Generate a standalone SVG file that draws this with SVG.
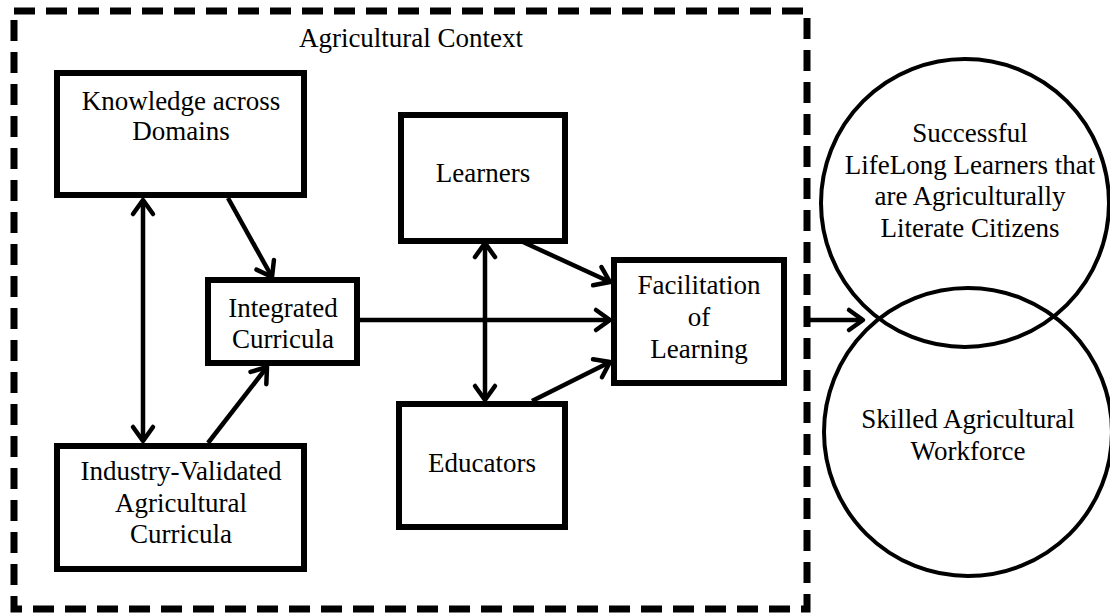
<svg xmlns="http://www.w3.org/2000/svg" width="1110" height="613" viewBox="0 0 1110 613">
<style>
.box{fill:#fff;stroke:#000;stroke-width:6}
.ring{fill:none;stroke:#000;stroke-width:4}
.t{font-family:"Liberation Serif","Times New Roman",serif;font-size:27px;fill:#000;text-anchor:middle}
.c{fill:none;stroke:#000;stroke-width:4.5}
</style>
<defs>
<marker id="ah" viewBox="-20 -20 40 40" refX="0" refY="0" markerWidth="40" markerHeight="40" markerUnits="userSpaceOnUse" orient="auto-start-reverse">
<path d="M-14 -10 L0 0 L-14 10" fill="none" stroke="#000" stroke-width="4.5" stroke-linecap="round" stroke-linejoin="round"/>
</marker>
</defs>
<rect width="1110" height="613" fill="#fff"/>
<g id="context">
<rect x="14" y="11" width="793" height="598" fill="none" stroke="#000" stroke-width="7" stroke-dasharray="21 11"/>
<text class="t" x="411" y="47">Agricultural Context</text>
</g>
<g id="knowledge">
<rect class="box" x="57" y="73" width="247" height="122"/>
<text class="t" x="181" y="110">Knowledge across</text>
<text class="t" x="181" y="140">Domains</text>
</g>
<g id="industry">
<rect class="box" x="57" y="446" width="247" height="123"/>
<text class="t" x="181" y="480">Industry-Validated</text>
<text class="t" x="181" y="512">Agricultural</text>
<text class="t" x="181" y="543">Curricula</text>
</g>
<g id="integrated">
<rect class="box" x="208" y="280" width="149" height="83"/>
<text class="t" x="283" y="317">Integrated</text>
<text class="t" x="283" y="348">Curricula</text>
</g>
<g id="learners">
<rect class="box" x="401" y="115" width="164" height="126"/>
<text class="t" x="483" y="182">Learners</text>
</g>
<g id="educators">
<rect class="box" x="399" y="404" width="166" height="123"/>
<text class="t" x="482" y="472">Educators</text>
</g>
<g id="facilitation">
<rect class="box" x="614" y="260" width="170" height="123"/>
<text class="t" x="699" y="294">Facilitation</text>
<text class="t" x="699" y="326">of</text>
<text class="t" x="699" y="358">Learning</text>
</g>
<g id="lifelong">
<circle class="ring" cx="965" cy="203" r="144"/>
<text class="t" x="970" y="142">Successful</text>
<text class="t" x="970" y="174">LifeLong Learners that</text>
<text class="t" x="970" y="205">are Agriculturally</text>
<text class="t" x="970" y="237">Literate Citizens</text>
</g>
<g id="workforce">
<circle class="ring" cx="968" cy="432" r="144"/>
<text class="t" x="968" y="428">Skilled Agricultural</text>
<text class="t" x="968" y="460">Workforce</text>
</g>
<g id="connectors">
<line class="c" x1="143" y1="200" x2="143" y2="441" marker-start="url(#ah)" marker-end="url(#ah)"/>
<line class="c" x1="228" y1="198" x2="272" y2="277" marker-end="url(#ah)"/>
<line class="c" x1="208" y1="443" x2="267" y2="367" marker-end="url(#ah)"/>
<line class="c" x1="360" y1="320" x2="610" y2="320" marker-end="url(#ah)"/>
<line class="c" x1="485" y1="243" x2="485" y2="400" marker-start="url(#ah)" marker-end="url(#ah)"/>
<line class="c" x1="523" y1="242" x2="610" y2="282" marker-end="url(#ah)"/>
<line class="c" x1="532" y1="401" x2="610" y2="362" marker-end="url(#ah)"/>
<line class="c" x1="808" y1="320" x2="863" y2="320" marker-end="url(#ah)"/>
</g>
</svg>
